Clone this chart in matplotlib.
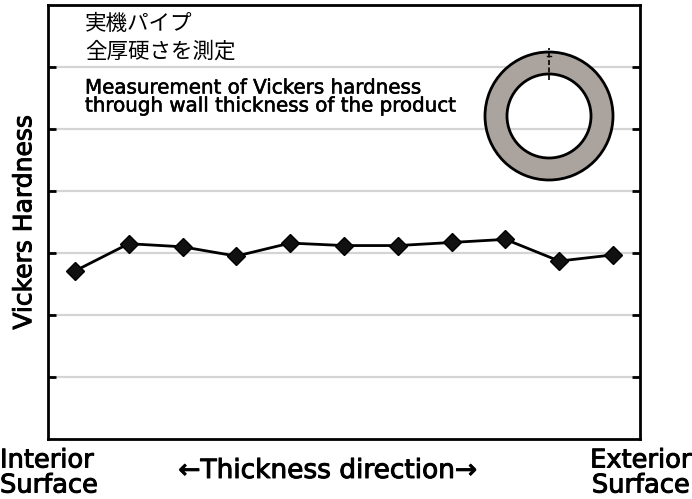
import numpy as np
import matplotlib.pyplot as plt
import matplotlib.patheffects as pe
from matplotlib.patches import Wedge

plt.rcParams['font.family'] = ['DejaVu Sans', 'Noto Sans CJK JP']

# measurement points through the wall (interior -> exterior)
positions = [1, 2, 3, 4, 5, 6, 7, 8, 9, 10, 11]
hardness = [2.71, 3.15, 3.10, 2.95, 3.16, 3.12, 3.12, 3.17, 3.22, 2.87, 2.97]
grid_levels = [1, 2, 3, 4, 5, 6]

title_jp = ['実機パイプ', '全厚硬さを測定']
title_en = ['Measurement of Vickers hardness',
            'through wall thickness of the product']

# a light stroke to thicken the Latin labels a bit
heavy = [pe.withStroke(linewidth=0.7, foreground='black')]

fig = plt.figure(figsize=(6.92, 4.99), dpi=100)
ax = fig.add_axes([48 / 692, 60 / 499, 592 / 692, 434 / 499])

for g in grid_levels:
    ax.axhline(g, color='#d4d4d4', lw=1.6, zorder=1)

ax.plot(positions, hardness, color='black', lw=2, marker='D', ms=9,
        markerfacecolor='#111111', markeredgecolor='black', zorder=3)

ax.set_xlim(0.5, 11.5)
ax.set_ylim(0, 7)
ax.set_xticks([])
ax.set_yticks(grid_levels)
ax.set_yticklabels([])
ax.tick_params(axis='y', direction='in', length=6, width=2, left=True,
               right=True, color='black')
for s in ax.spines.values():
    s.set_linewidth(2)

ax.set_ylabel('Vickers Hardness', fontsize=18, labelpad=5,
              path_effects=heavy)

# title block inside the plot
jp = ['Noto Sans CJK JP', 'DejaVu Sans']
ax.text(37 / 592, 1 - 19 / 434, title_jp[0], transform=ax.transAxes,
        fontsize=15.5, va='center', ha='left', family=jp)
ax.text(37 / 592, 1 - 47 / 434, title_jp[1], transform=ax.transAxes,
        fontsize=15.5, va='center', ha='left', family=jp)
ax.text(37 / 592, 1 - 83 / 434, title_en[0], transform=ax.transAxes,
        fontsize=14.3, va='center', ha='left',
        path_effects=[pe.withStroke(linewidth=0.4, foreground='black')])
ax.text(37 / 592, 1 - 101 / 434, title_en[1], transform=ax.transAxes,
        fontsize=14.3, va='center', ha='left',
        path_effects=[pe.withStroke(linewidth=0.4, foreground='black')])

# pipe cross-section sketch
ins = fig.add_axes([(549 - 70) / 692, (499 - 116 - 70) / 499, 140 / 692,
                    140 / 499])
ins.set_xlim(-70, 70)
ins.set_ylim(-70, 70)
ins.set_aspect('equal')
ins.axis('off')
ins.add_patch(Wedge((0, 0), 64, 0, 360, width=22, facecolor='#aaa39e',
                    edgecolor='black', lw=2))
ins.plot([0, 0], [36, 68], color='black', lw=1.2, ls=(0, (3, 1.5)))
ins.plot([-2, 2], [60, 60], color='black', lw=1)

# axis captions under the plot
fig.text(0, 26 / 499, 'Interior\nSurface', fontsize=18.5,
         ha='left', va='center', linespacing=0.95, path_effects=heavy)
fig.text(1.0, 26 / 499, 'Exterior\nSurface', fontsize=18.5,
         ha='right', va='center', linespacing=0.95, multialignment='center',
         path_effects=heavy)
fig.text(328 / 692, 28 / 499, '←Thickness direction→', fontsize=19,
         ha='center', va='center', path_effects=heavy)

fig.savefig('out.png', dpi=100)
